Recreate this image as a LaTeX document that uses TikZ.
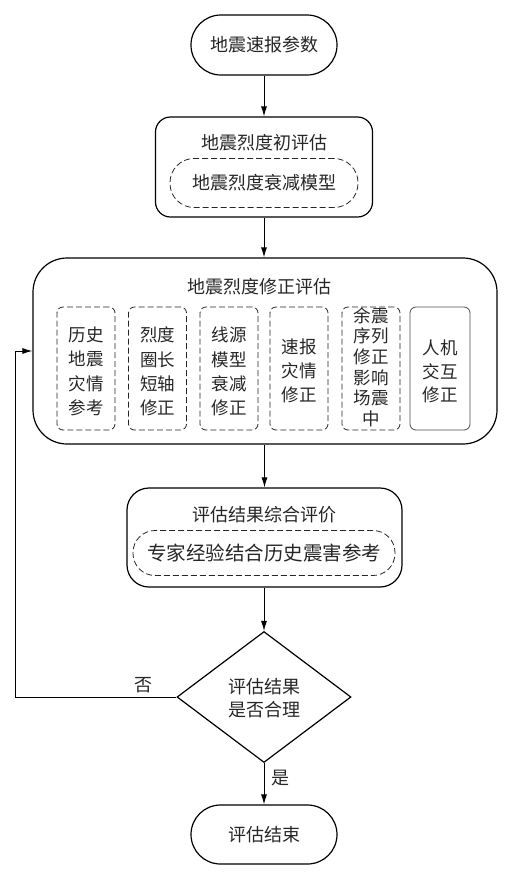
\documentclass[tikz,border=0pt]{standalone}
\usepackage{fontspec}
\setmainfont{Noto Sans CJK SC}
\usetikzlibrary{arrows.meta,shapes.geometric}
\begin{document}
\begin{tikzpicture}[x=1pt,y=-1pt,
  box/.style={draw, line width=1.2pt, inner sep=0pt},
  dbox/.style={draw, dashed, dash pattern=on 6pt off 3pt, line width=0.8pt, inner sep=0pt, draw=black!85},
  arr/.style={-{Latex[length=10pt,width=6pt]}, line width=0.9pt},
  txt/.style={font=\fontsize{18}{24}\selectfont, inner sep=0pt, align=center, text=black!85},
  coltxt/.style={font=\fontsize{17.5}{24.3}\selectfont, inner sep=0pt, align=center, text=black!85},
]
\useasboundingbox (0,0) rectangle (513,879);

% start
\node[box, rounded corners=30pt, minimum width=146pt, minimum height=60pt, txt] (start) at (264,45) {地震速报参数};

% initial assessment
\node[box, rounded corners=15pt, minimum width=217pt, minimum height=100pt] (init) at (264,167) {};
\node[txt] (initT) at (264,143) {地震烈度初评估};
\node[dbox, rounded corners=24pt, minimum width=188pt, minimum height=49pt, txt] (initM) at (264,183) {地震烈度衰减模型};

% correction assessment
\node[box, rounded corners=34pt, minimum width=464pt, minimum height=186pt] (corr) at (265,351) {};
\node[txt] (corrT) at (259,287) {地震烈度修正评估};

\node[dbox, rounded corners=6pt, minimum width=58pt, minimum height=123pt] (c1) at (86,368.5) {};
\node[dbox, rounded corners=6pt, minimum width=58pt, minimum height=123pt] (c2) at (157.5,368.5) {};
\node[dbox, rounded corners=6pt, minimum width=58pt, minimum height=123pt] (c3) at (229,368.5) {};
\node[dbox, rounded corners=6pt, minimum width=58pt, minimum height=123pt] (c4) at (299,368.5) {};
\node[dbox, rounded corners=6pt, minimum width=58pt, minimum height=123pt] (c5) at (371,368.5) {};
\node[draw=black!70, line width=0.8pt, rounded corners=6pt, minimum width=60pt, minimum height=123pt, inner sep=0pt] (c6) at (440,368.5) {};

\node[coltxt] (t1) at (86,371.5) {历史\\地震\\灾情\\参考};
\node[coltxt] (t2) at (157.5,371.5) {烈度\\圈长\\短轴\\修正};
\node[coltxt] (t3) at (229,371.5) {线源\\模型\\衰减\\修正};
\node[coltxt] (t4) at (299,371) {速报\\灾情\\修正};
\node[coltxt, font=\fontsize{17.5}{20.6}\selectfont] (t5) at (371,367) {余震\\序列\\修正\\影响\\场震\\中};
\node[coltxt, font=\fontsize{17.5}{23.5}\selectfont] (t6) at (440,371.5) {人机\\交互\\修正};

% synthesis
\node[box, rounded corners=22pt, minimum width=275pt, minimum height=99pt] (syn) at (264.5,537.5) {};
\node[txt] (synT) at (264,515) {评估结果综合评价};
\node[dbox, rounded corners=22pt, minimum width=262pt, minimum height=45pt, txt, font=\fontsize{19.5}{24}\selectfont] (synM) at (264,553) {专家经验结合历史震害参考};

% decision
\node[draw, line width=1.2pt, diamond, aspect=1.33, inner sep=0pt, minimum width=174pt, minimum height=131pt] (dec) at (264,697) {};
\node[txt, font=\fontsize{18}{23}\selectfont] (decT) at (264,698.5) {评估结果\\是否合理};

% end
\node[box, rounded corners=29.5pt, minimum width=146pt, minimum height=59pt, txt] (end) at (264,834.5) {评估结束};

% arrows
\draw[arr] (start.south) -- (init.north);
\draw[arr] (init.south) -- (corr.north -| init.south);
\draw[arr] (corr.south -| syn.north) -- (syn.north);
\draw[arr] (syn.south -| dec.north) -- (dec.north);
\draw[arr] (dec.south) -- (end.north);
\draw[arr] (dec.west) -| ([xshift=-17pt]corr.west) -- (corr.west);

\node[txt] (no) at (143,685) {否};
\node[txt] (yes) at (280,778) {是};
\end{tikzpicture}
\end{document}
